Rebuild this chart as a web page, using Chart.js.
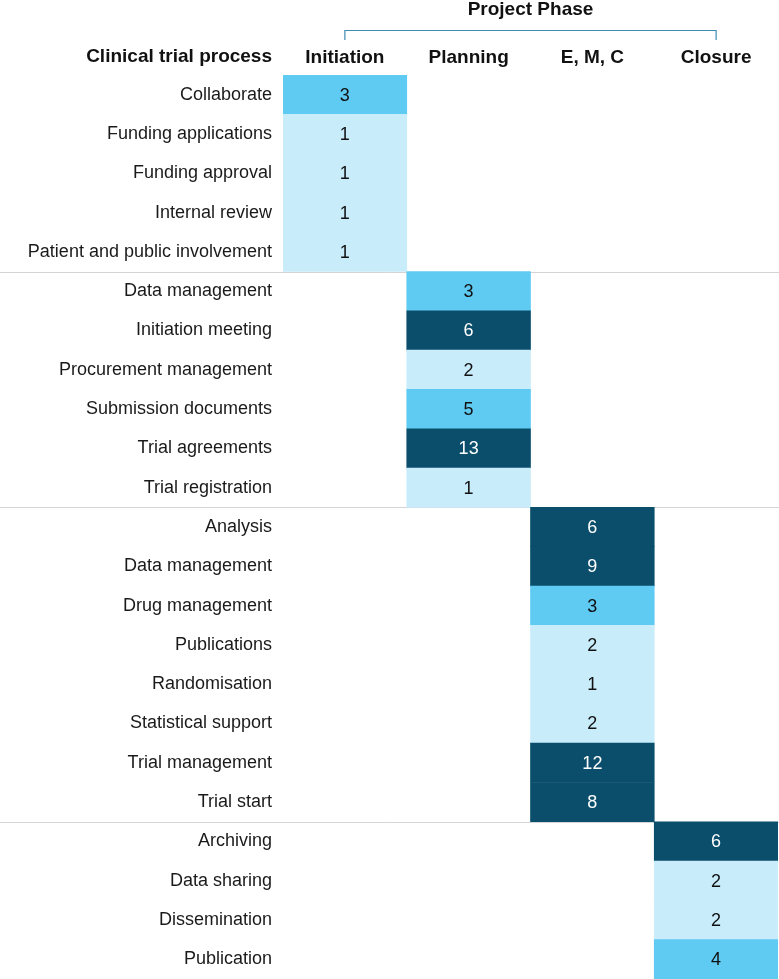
<!DOCTYPE html>
<html>
<head>
<meta charset="utf-8">
<script src="https://cdn.jsdelivr.net/npm/chart.js@4/dist/chart.umd.min.js"></script>
<style>
  body { margin: 0; background: #fff; }
</style>
</head>
<body>
<canvas id="phaseChart" width="779" height="979"></canvas>
<script>
// 行ラベル
var processes = [
  "Collaborate", "Funding applications", "Funding approval", "Internal review", "Patient and public involvement",
  "Data management", "Initiation meeting", "Procurement management", "Submission documents", "Trial agreements", "Trial registration",
  "Analysis", "Data management", "Drug management", "Publications", "Randomisation", "Statistical support", "Trial management", "Trial start",
  "Archiving", "Data sharing", "Dissemination", "Publication"
];
// 列ラベル
var phases = ["Initiation", "Planning", "E, M, C", "Closure"];
// 各行のフェーズ番号
var phaseOfRow = [0, 0, 0, 0, 0, 1, 1, 1, 1, 1, 1, 2, 2, 2, 2, 2, 2, 2, 2, 3, 3, 3, 3];
// 件数
var counts = [3, 1, 1, 1, 1, 3, 6, 2, 5, 13, 1, 6, 9, 3, 2, 1, 2, 12, 8, 6, 2, 2, 4];

var FONT = "'Liberation Sans', Arial, sans-serif";

function cellColor(v) {
  if (v >= 6) return "#0B4E6B";
  if (v >= 3) return "#5FCAF2";
  return "#C9ECFA";
}

// 区切り線・見出し・ブラケット
var decorPlugin = {
  id: "decor",
  beforeDatasetsDraw: function (chart) {
    var ctx = chart.ctx;
    var y = chart.scales.y;
    ctx.save();
    ctx.strokeStyle = "#d4d4d4";
    ctx.lineWidth = 1;
    for (var i = 1; i < phaseOfRow.length; i++) {
      if (phaseOfRow[i] !== phaseOfRow[i - 1]) {
        var yy = Math.round((y.getPixelForValue(i - 1) + y.getPixelForValue(i)) / 2) + 0.5;
        ctx.beginPath();
        ctx.moveTo(0, yy);
        ctx.lineTo(chart.width, yy);
        ctx.stroke();
      }
    }
    ctx.restore();
  },
  afterDraw: function (chart) {
    var ctx = chart.ctx;
    var x = chart.scales.x;
    var x0 = x.getPixelForValue(0.5);
    var x1 = x.getPixelForValue(phases.length - 0.5);
    ctx.save();
    // ブラケット
    ctx.strokeStyle = "#3F8DB3";
    ctx.lineWidth = 1.2;
    ctx.beginPath();
    ctx.moveTo(x0, 40);
    ctx.lineTo(x0, 30.5);
    ctx.lineTo(x1, 30.5);
    ctx.lineTo(x1, 40);
    ctx.stroke();
    // タイトル
    ctx.fillStyle = "#111";
    ctx.font = "bold 19px " + FONT;
    ctx.textAlign = "center";
    ctx.textBaseline = "middle";
    ctx.fillText("Project Phase", (x0 + x1) / 2, 10);
    ctx.textAlign = "right";
    ctx.fillText("Clinical trial process", 272, 57);
    // セルの数値
    var meta = chart.getDatasetMeta(0);
    ctx.font = "18px " + FONT;
    ctx.textAlign = "center";
    meta.data.forEach(function (bar, i) {
      var c = bar.getCenterPoint();
      ctx.fillStyle = counts[i] >= 6 ? "#ffffff" : "#111111";
      ctx.fillText(String(counts[i]), c.x, c.y + 1);
    });
    ctx.restore();
  }
};

var ctx = document.getElementById("phaseChart");
var phaseChart = new Chart(ctx, {
  type: "bar",
  data: {
    labels: processes,
    datasets: [{
      data: phaseOfRow.map(function (p) { return [p, p + 1]; }),
      backgroundColor: counts.map(cellColor),
      borderWidth: 0,
      borderSkipped: false,
      barPercentage: 1,
      categoryPercentage: 1
    }]
  },
  options: {
    indexAxis: "y",
    responsive: false,
    animation: false,
    layout: { padding: { top: 0, right: 1, bottom: 0, left: 0 } },
    plugins: {
      legend: { display: false },
      tooltip: { enabled: false }
    },
    scales: {
      x: {
        position: "top",
        min: 0,
        max: phases.length,
        grid: { display: false, drawTicks: false },
        border: { display: false },
        afterBuildTicks: function (scale) {
          scale.ticks = phases.map(function (p, i) { return { value: i + 0.5 }; });
        },
        afterFit: function (scale) {
          scale.height = 75;
          scale.paddingLeft = 0;
          scale.paddingRight = 0;
        },
        ticks: {
          autoSkip: false,
          maxRotation: 0,
          padding: 6,
          color: "#111",
          font: { family: FONT, size: 19, weight: "bold" },
          callback: function (v, i) { return phases[i]; }
        }
      },
      y: {
        grid: { display: false, drawTicks: false },
        border: { display: false },
        afterFit: function (scale) {
          scale.width = 283;
          scale.paddingTop = 0;
          scale.paddingBottom = 0;
        },
        ticks: {
          autoSkip: false,
          padding: 11,
          color: "#1a1a1a",
          font: { family: FONT, size: 18 }
        }
      }
    }
  },
  plugins: [decorPlugin]
});
</script>
</body>
</html>
